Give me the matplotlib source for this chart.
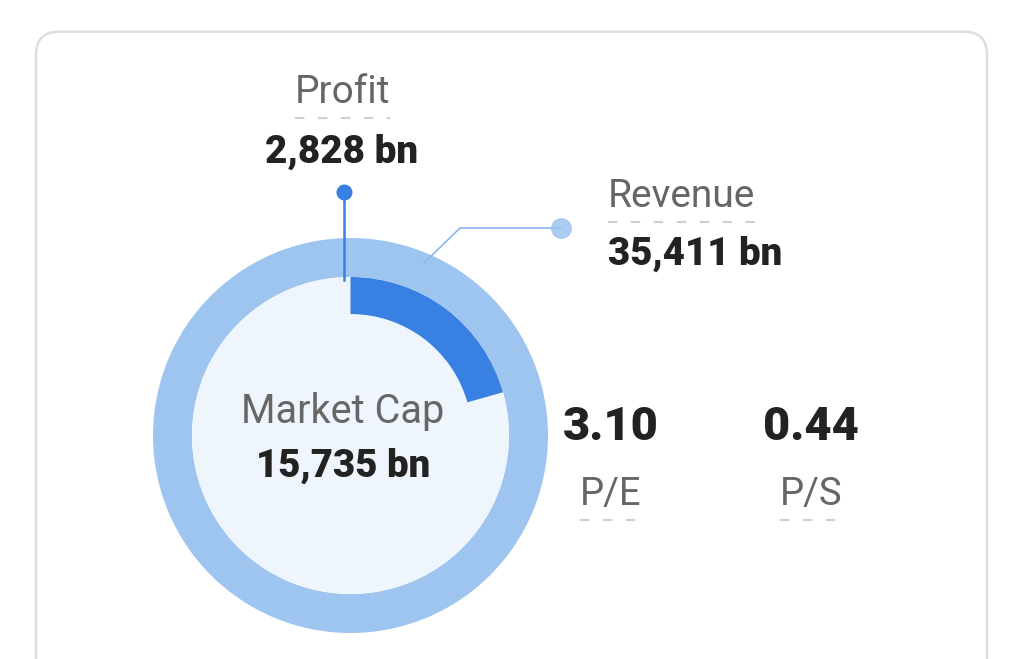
import numpy as np
import matplotlib; matplotlib.use("Agg"); import matplotlib.pyplot as plt
from matplotlib.patches import FancyBboxPatch, Circle
plt.rcParams['font.family'] = ['Roboto', 'DejaVu Sans']

metric_names = ["Profit", "Revenue", "Market Cap"]
metric_values = [2828, 35411, 15735]          # bn
profit_arc = [0.206, 0.794]                    # share of ring covered by profit arc
ratio_names = ["P/E", "P/S"]
ratio_values = [3.10, 0.44]

BLUE_LT = "#9ec5f0"; BLUE = "#3880e2"; FILL = "#eff5fd"
GRAY = "#666666"; DARK = "#222222"; DASH = "#cfcfcf"
BOLD = 'heavy'

W, H = 1024, 659
fig = plt.figure(figsize=(W/100, H/100), dpi=100)
ax = fig.add_axes([0, 0, 1, 1])
cx, cy = 350.5, H-435.5; R = 197.5; ring = 39; warc = 37

# revenue ring, inner disc, profit arc
ax.pie([metric_values[1]], radius=R, center=(cx, cy), colors=[BLUE_LT], startangle=90,
       wedgeprops=dict(width=ring, linewidth=0))
ax.add_patch(Circle((cx, cy), R-ring, color=FILL, lw=0, zorder=2))
w, _ = ax.pie(profit_arc, radius=R-ring, center=(cx, cy), colors=[BLUE, 'none'], startangle=90,
              counterclock=False, wedgeprops=dict(width=warc, linewidth=0))
for p in w: p.set_zorder(3)

# card
ax.add_patch(FancyBboxPatch((36, -60), 951, 627.3+60, boxstyle="round,pad=0,rounding_size=23",
                            fc='none', ec='#dedede', lw=1.8, zorder=1))

# leader lines
ax.plot([cx-7, cx-7], [H-280, H-192], color=BLUE, lw=1.8, zorder=4)
ax.plot([cx-7], [H-192], 'o', color=BLUE, ms=10.5, zorder=4)
ax.plot([424, 460, 561], [H-263, H-228, H-228], color="#8ab8ee", lw=1.2, zorder=4)
ax.plot([561], [H-228], 'o', color=BLUE_LT, ms=14, alpha=0.85, zorder=4)

def dashes(x0, x1, y):
    ax.plot([x0, x1], [y, y], color=DASH, lw=1.5, ls=(0, (4.5, 6.5)), solid_capstyle='butt')

fmt = lambda v: f"{v:,} bn"
# profit
ax.text(342, H-103, metric_names[0], ha='center', va='baseline', fontsize=28, color=GRAY)
dashes(295, 390, H-118)
ax.text(342, H-163, fmt(metric_values[0]), ha='center', va='baseline', fontsize=27.8, fontweight=BOLD, color=DARK)
# revenue
ax.text(608, H-207, metric_names[1], ha='left', va='baseline', fontsize=28, color=GRAY)
dashes(608, 756, H-222)
ax.text(608, H-265, fmt(metric_values[1]), ha='left', va='baseline', fontsize=27.6, fontweight=BOLD, color=DARK)
# market cap
ax.text(343, H-423, metric_names[2], ha='center', va='baseline', fontsize=28.5, color=GRAY, zorder=5)
ax.text(343, H-477, fmt(metric_values[2]), ha='center', va='baseline', fontsize=27.6, fontweight=BOLD, color=DARK, zorder=5)
# ratios
for xc, nm, v in zip([611, 811], ratio_names, ratio_values):
    ax.text(xc, H-440, f"{v:.2f}", ha='center', va='baseline', fontsize=33.8, fontweight=BOLD, color=DARK)
    ax.text(xc, H-505, nm, ha='center', va='baseline', fontsize=27.5, color=GRAY)
    dashes(xc-31, xc+33, H-520)

ax.set_xlim(0, W); ax.set_ylim(0, H); ax.set_aspect('auto'); ax.axis('off')
fig.savefig("out.png", dpi=100, facecolor='white')
